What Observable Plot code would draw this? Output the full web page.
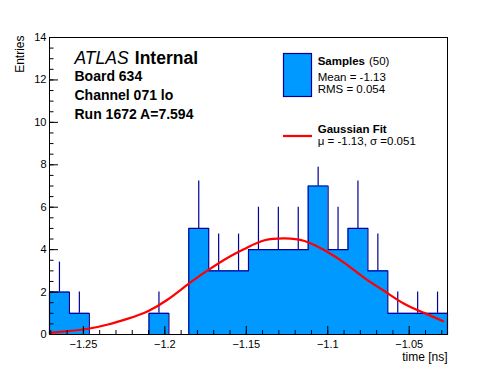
<!DOCTYPE html>
<html><head><meta charset="utf-8">
<script src="https://cdn.jsdelivr.net/npm/d3@7"></script>
<script src="https://cdn.jsdelivr.net/npm/@observablehq/plot@0.6"></script>
<style>
html,body{margin:0;padding:0;background:#fff;}
svg{display:block;font-family:"Liberation Sans",Arial,Helvetica,sans-serif;}
</style></head><body><div id="chart"></div>
<script>
// ---- data ----
const binLo = -1.2708;
const binHi = -1.0265;
const counts = [2,1,0,0,0,1,0,5,3,3,4,4,4,7,4,5,3,1,1,1];
const fitX = [-1.2706,-1.2594,-1.2471,-1.2349,-1.2226,-1.2104,-1.1982,-1.1859,-1.1737,-1.1614,-1.1496,-1.1388,-1.1265,-1.1143,-1.1020,-1.0898,-1.0776,-1.0653,-1.0531,-1.0409,-1.0292];
const fitY = [0.08,0.16,0.27,0.47,0.75,1.10,1.65,2.36,3.02,3.62,4.09,4.44,4.53,4.41,3.97,3.38,2.67,2.05,1.45,1.02,0.63];
const xMajorTicks = [-1.25,-1.2,-1.15,-1.1,-1.05];
const yMajorTicks = [0,2,4,6,8,10,12,14];
const xLabel = "time [ns]";
const yLabel = "Entries";
const headerLines = ["Board 634","Channel 071 lo","Run 1672 A=7.594"];
const legendHist = ["Samples","(50)","Mean = -1.13","RMS = 0.054"];
const legendFit = ["Gaussian Fit","\u03bc = -1.13, \u03c3 =0.051"];

// ---- layout ----
const W = 496, H = 372, ML = 49, MR = 49, MT = 37, MB = 38;
const PW = W - ML - MR, PH = H - MT - MB;
const FILL = "#0099ff", EDGE = "#000099", RED = "#ff0000";

const nb = counts.length, bw = (binHi - binLo) / nb;
const bins = counts.map((c, i) => ({x1: binLo + i*bw, xc: binLo + (i+0.5)*bw, c}));
const outline = [{x: binLo, y: 0}, ...bins.map(b => ({x: b.x1, y: b.c})), {x: binHi, y: counts[nb-1]}, {x: binHi, y: 0}];
const errs = bins.filter(b => b.c > 0).map(b => ({x: b.xc, y1: b.c, y2: b.c + Math.sqrt(b.c)}));
const fit = fitX.map((x, i) => ({x, y: fitY[i]}));
const xMinor = d3.ticks(binLo, binHi, 25);
const yMinor = d3.range(0, 14.001, 0.5);

const T = (s, o) => Plot.text([s], {text: d => d, frameAnchor: "top-left", lineAnchor: "middle", textAnchor: "start", fill: "black", ...o});

const plot = Plot.plot({
  width: W, height: H,
  marginLeft: ML, marginRight: MR, marginTop: MT, marginBottom: MB,
  style: {fontFamily: '"Liberation Sans",Arial,sans-serif', fontSize: "11px", color: "black", background: "white"},
  x: {domain: [binLo, binHi]},
  y: {domain: [0, 14]},
  marks: [
    Plot.areaY(outline, {x: "x", y: "y", curve: "step-after", fill: FILL}),
    Plot.lineY(outline, {x: "x", y: "y", curve: "step-after", stroke: EDGE, strokeWidth: 1.2}),
    Plot.ruleX(errs, {x: "x", y1: "y1", y2: "y2", stroke: EDGE, strokeWidth: 1.2}),
    Plot.line(fit, {x: "x", y: "y", curve: "natural", stroke: RED, strokeWidth: 2.2}),
    Plot.tickX(xMinor, {x: d => d, insetTop: PH - 4, stroke: "black"}),
    Plot.tickX(xMajorTicks, {x: d => d, insetTop: PH - 8, stroke: "black"}),
    Plot.tickY(yMinor, {y: d => d, insetRight: PW - 4.5, stroke: "black"}),
    Plot.tickY(yMajorTicks, {y: d => d, insetRight: PW - 9, stroke: "black"}),
    Plot.axisX({ticks: xMajorTicks, tickSize: 0, tickPadding: 5.5, label: null, tickFormat: d => String(d).replace("-", "\u2212")}),
    Plot.axisY({ticks: yMajorTicks, tickSize: 0, tickPadding: 3, label: null, tickFormat: d => String(d)}),
    Plot.frame({stroke: "black"}),
    Plot.text([xLabel], {text: d => d, frameAnchor: "bottom-right", lineAnchor: "middle", textAnchor: "end", dy: 22.5, fontSize: 12}),
    T(yLabel, {rotate: -90, textAnchor: "end", dx: -29.5, dy: -2, fontSize: 12}),
    T("ATLAS", {dx: 25, dy: 20.7, fontSize: 17.5, fontStyle: "italic"}),
    T("Internal", {dx: 85.3, dy: 20.7, fontSize: 17.5, fontWeight: "bold"}),
    ...headerLines.map((s, i) => T(s, {dx: 25, dy: 39.5 + 19 * i, fontSize: 14, fontWeight: "bold"}))
  ]
});

// ---- legend (TLegend box, white, no border) ----
const svg = d3.select(plot);
const lg = svg.append("g")
  .attr("font-family", '"Liberation Sans",Arial,sans-serif')
  .attr("font-size", 11.5).attr("fill", "black").attr("text-anchor", "start");
lg.append("rect").attr("x", 276).attr("y", 42).attr("width", 166).attr("height", 124.7).attr("fill", "white");
lg.append("rect").attr("x", 283.5).attr("y", 53.5).attr("width", 28).attr("height", 43).attr("fill", FILL).attr("stroke", EDGE).attr("stroke-width", 1.2);
lg.append("line").attr("x1", 283).attr("x2", 312).attr("y1", 136).attr("y2", 136).attr("stroke", RED).attr("stroke-width", 2.2);
lg.append("text").attr("x", 317.7).attr("y", 65).attr("font-weight", "bold").text(legendHist[0]);
lg.append("text").attr("x", 369).attr("y", 65).text(legendHist[1]);
lg.append("text").attr("x", 317.7).attr("y", 80.7).text(legendHist[2]);
lg.append("text").attr("x", 317.7).attr("y", 93.3).text(legendHist[3]);
lg.append("text").attr("x", 317.7).attr("y", 132.7).attr("font-weight", "bold").text(legendFit[0]);
lg.append("text").attr("x", 317.7).attr("y", 145).text(legendFit[1]);

document.getElementById("chart").appendChild(plot);
</script></body></html>
